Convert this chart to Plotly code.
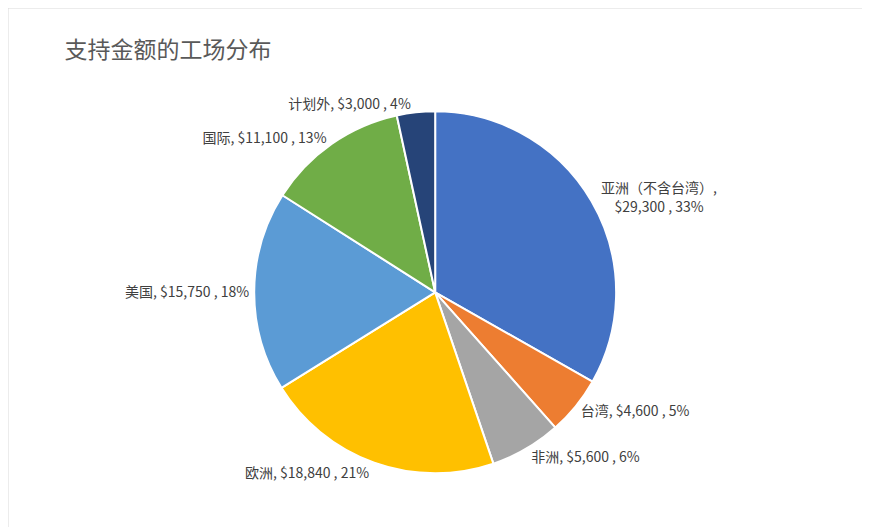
import plotly.graph_objects as go

regions = ["亚洲（不含台湾）", "台湾", "非洲", "欧洲", "美国", "国际", "计划外"]
amounts = [29300, 4600, 5600, 18840, 15750, 11100, 3000]
percent_labels = ["33%", "5%", "6%", "21%", "18%", "13%", "4%"]
colors = ["#4472C4", "#ED7D31", "#A5A5A5", "#FFC000", "#5B9BD5", "#70AD47", "#264478"]

texts = []
for name, amt, pct in zip(regions, amounts, percent_labels):
    sep = ",<br>" if name.startswith("亚洲") else ", "
    texts.append(f"{name}{sep}${amt:,} , {pct}")

fig = go.Figure(go.Pie(
    labels=regions, values=amounts, sort=False, direction="clockwise", rotation=0,
    marker=dict(colors=colors, line=dict(color="white", width=2)),
    text=texts, textposition="outside", textinfo="text",
    textfont=dict(size=14, color="#404040"),
    domain=dict(x=[0.283, 0.699], y=[0.117, 0.804]),
    showlegend=False, hoverinfo="label+value",
))

fig.update_layout(
    width=870, height=527, margin=dict(l=0, r=0, t=0, b=0),
    paper_bgcolor="white",
    font=dict(family="Noto Sans CJK SC, sans-serif"),
    title=dict(text="支持金额的工场分布", x=0.065, y=0.935, xanchor="left",
               font=dict(size=23, color="#595959")),
    shapes=[dict(type="rect", xref="paper", yref="paper", x0=0, y0=0, x1=1, y1=1,
                 line=dict(color="#D9D9D9", width=1))],
)

fig.write_html("out.html")
